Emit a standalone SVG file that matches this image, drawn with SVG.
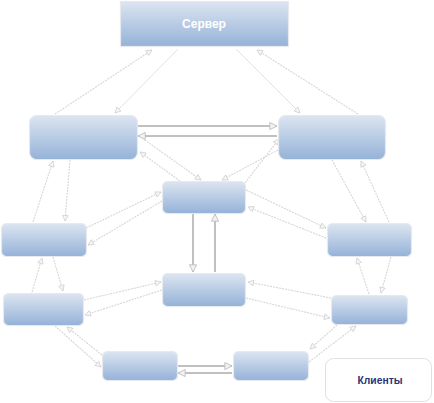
<svg xmlns="http://www.w3.org/2000/svg" width="434" height="403" viewBox="0 0 434 403">
<defs>
<linearGradient id="g" x1="0" y1="0" x2="0" y2="1">
<stop offset="0" stop-color="#dce5f1"/>
<stop offset="1" stop-color="#95b2d8"/>
</linearGradient>
<marker id="a" viewBox="0 0 10 10" refX="9" refY="5" markerWidth="7" markerHeight="7" orient="auto" markerUnits="userSpaceOnUse">
<path d="M1,1 L9,5 L1,9 Z" fill="#f6f6f6" stroke="#cccccc" stroke-width="1"/>
</marker>
<marker id="b" viewBox="0 0 10 10" refX="9" refY="5" markerWidth="9" markerHeight="9" orient="auto" markerUnits="userSpaceOnUse">
<path d="M1,1 L9,5 L1,9 Z" fill="#f2f2f2" stroke="#bdbdbd" stroke-width="1"/>
</marker>
</defs>
<style>
.n{fill:url(#g);stroke:#e6e9ee;stroke-width:1.2}
.d{fill:none;stroke:#d6d6d6;stroke-width:1.1;stroke-dasharray:2 1;marker-end:url(#a)}
.s{fill:none;stroke:#dadada;stroke-width:0.8;marker-end:url(#a)}
.t{fill:none;stroke:#c0c0c0;stroke-width:2;marker-end:url(#b)}
</style>
<g id="connectors">
<path class="d" d="M55,114 L152,50"/>
<path class="s" d="M178,49 L115,113"/>
<path class="s" d="M236,49 L300,113"/>
<path class="d" d="M358,114 L257,50"/>
<path class="t" d="M138,126 L277,126"/>
<path class="t" d="M277,136 L138,136"/>
<path class="d" d="M180,181 L140,152"/>
<path class="d" d="M142,138 L201,180"/>
<path class="d" d="M245,183 L279,139"/>
<path class="d" d="M278,150 L222,180"/>
<path class="d" d="M70,160 L65,221"/>
<path class="d" d="M33,222 L53,161"/>
<path class="d" d="M86,228 L161,192"/>
<path class="d" d="M162,201 L88,245"/>
<path class="d" d="M53,257 L63,291"/>
<path class="d" d="M32,292 L42,258"/>
<path class="d" d="M84,300 L161,282"/>
<path class="d" d="M162,290 L85,315"/>
<path class="d" d="M55,326 L101,367"/>
<path class="d" d="M102,355 L67,327"/>
<path class="t" d="M178,366 L232,366"/>
<path class="t" d="M232,373 L178,373"/>
<path class="d" d="M337,325 L310,349"/>
<path class="d" d="M309,362 L356,326"/>
<path class="d" d="M331,298 L248,282"/>
<path class="d" d="M246,298 L330,318"/>
<path class="d" d="M369,294 L357,258"/>
<path class="d" d="M391,257 L381,293"/>
<path class="d" d="M332,160 L366,222"/>
<path class="d" d="M389,222 L361,161"/>
<path class="d" d="M246,190 L326,228"/>
<path class="d" d="M326,238 L248,207"/>
<path class="t" d="M193,214 L193,272"/>
<path class="t" d="M215,272 L215,214"/>
</g>
<g id="server">
<rect class="n" x="120.5" y="1.5" width="168" height="45"/>
<text x="204" y="28" font-family="Liberation Sans, Arial, sans-serif" font-size="12" font-weight="bold" fill="#ffffff" text-anchor="middle">Сервер</text>
</g>
<g id="nodeA"><rect class="n" x="29.5" y="115.5" width="108" height="44" rx="7"/></g>
<g id="nodeB"><rect class="n" x="278.5" y="115.5" width="107" height="44" rx="7"/></g>
<g id="nodeC1"><rect class="n" x="162.5" y="181.5" width="83" height="32" rx="5"/></g>
<g id="nodeC2"><rect class="n" x="162.5" y="273.5" width="83" height="33" rx="5"/></g>
<g id="nodeL1"><rect class="n" x="1.5" y="223.5" width="85" height="33" rx="5"/></g>
<g id="nodeL2"><rect class="n" x="3.5" y="293.5" width="80" height="32" rx="5"/></g>
<g id="nodeB1"><rect class="n" x="102.5" y="351.5" width="75" height="29" rx="5"/></g>
<g id="nodeB2"><rect class="n" x="233.5" y="351.5" width="75" height="29" rx="5"/></g>
<g id="nodeR1"><rect class="n" x="327.5" y="223.5" width="84" height="33" rx="5"/></g>
<g id="nodeR2"><rect class="n" x="331.5" y="295.5" width="76" height="29" rx="5"/></g>
<g id="legend">
<rect x="325.5" y="358.5" width="106" height="43" rx="8" fill="#ffffff" stroke="#e0e0e0" stroke-width="1"/>
<text x="380" y="384" font-family="Liberation Sans, Arial, sans-serif" font-size="10" font-weight="bold" fill="#27337a" text-anchor="middle" textLength="45" lengthAdjust="spacingAndGlyphs">Клиенты</text>
</g>
</svg>
